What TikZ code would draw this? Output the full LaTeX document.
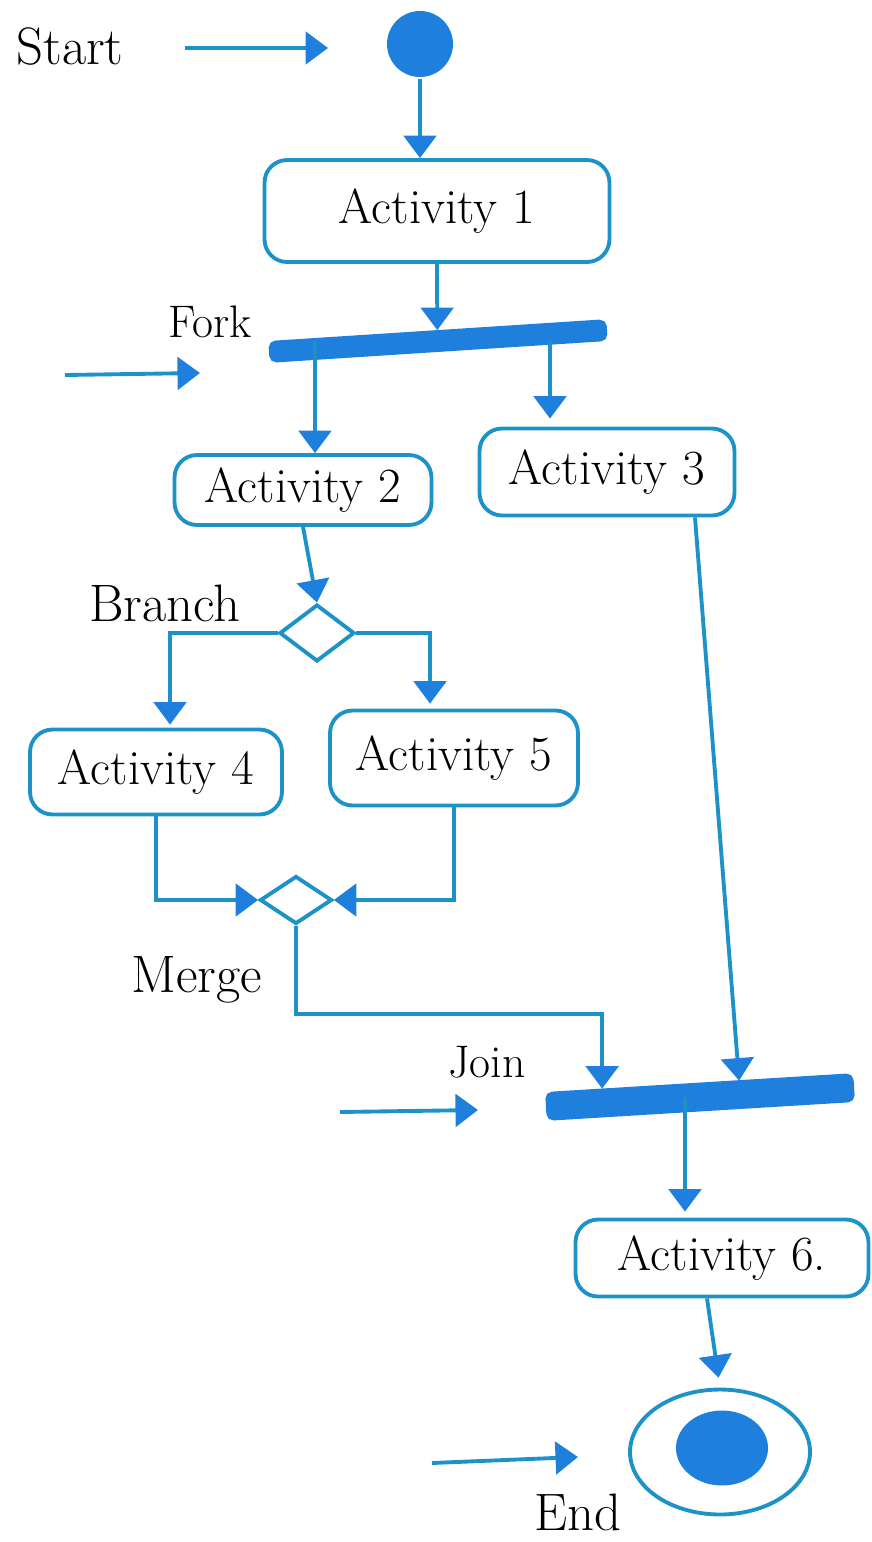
\documentclass[tikz,border=0pt]{standalone}
\usepackage{tikz}
\usetikzlibrary{arrows.meta,shapes.geometric,calc}
\definecolor{ink}{RGB}{28,146,200}
\definecolor{inkfill}{RGB}{30,128,220}

\begin{document}
\begin{tikzpicture}[
	  x=0.02cm,y=-0.02cm,line width=2.2pt,
	  flow/.style={draw=ink,-{Triangle[length=0.45cm,width=0.65cm,color=inkfill]}},
	  activity/.style={draw=ink,rounded corners=0.45cm,fill=white,font=\fontsize{28}{33}\selectfont},
	  bar/.style={fill=inkfill,draw=inkfill,rounded corners=3pt,inner sep=0pt},
	  tag/.style={font=\fontsize{30}{36}\selectfont},
	  smalltag/.style={font=\fontsize{26}{31}\selectfont}
	]
		\useasboundingbox (0,0) rectangle (872,1542);
		% initial and final states
		\node [circle,fill=inkfill,minimum size=1.32cm,inner sep=0pt] (start) at (420,44) {};
		\node [ellipse,draw=ink,minimum width=3.6cm,minimum height=2.5cm] (stop) at (720,1452) {};
		\node [ellipse,fill=inkfill,minimum width=1.84cm,minimum height=1.5cm] (stopdot) at (722,1448) {};
		% activities
		\foreach \n/\x/\y/\w/\h/\t in {1/437/211/6.9/2.04/{Activity 1},2/303/490/5.14/1.4/{Activity 2},
			3/607/472/5.1/1.74/{Activity 3},4/156/772/5.04/1.7/{Activity 4},
			5/454/758/4.96/1.9/{Activity 5},6/722/1258/5.86/1.54/{Activity 6.}}
			\node [activity,minimum width=\w cm,minimum height=\h cm] (a\n) at (\x,\y) {\t};
		% fork and join bars
		\node [bar,minimum width=6.7cm,minimum height=0.36cm,rotate=3.7] (fork) at (438,341) {};
		\node [bar,minimum width=6.1cm,minimum height=0.5cm,rotate=3.5] (join) at (700,1097) {};
		% branch and merge
		\node [diamond,draw=ink,minimum width=1.5cm,minimum height=1.14cm,inner sep=0pt] (br) at (317,633) {};
		\node [diamond,draw=ink,minimum width=1.44cm,minimum height=0.96cm,inner sep=0pt] (mg) at (296,900) {};
		% names
		\node [tag] (starttxt) at (70,46) {Start};
		\node [smalltag] (forktxt) at (210,322) {Fork};
		\node [tag] (branchtxt) at (165,603) {Branch};
		\node [tag] (mergetxt) at (197,980) {Merge};
		\node [smalltag] (jointxt) at (487,1062) {Join};
		\node [tag] (stoptxt) at (578,1512) {End};
		% end points off the nodes
		\coordinate (a2in) at ($(a2.north)+(12,0)$);
		\coordinate (a3in) at ($(a3.north)+(-57,-8)$);
		\coordinate (a4in) at ($(a4.north)+(14,-3)$);
		\coordinate (a5in) at ($(a5.north)+(-24,-5)$);
		\coordinate (a6in) at ($(a6.north)+(-37,-6)$);
		\coordinate (jl) at ($(join.north)+(-97,6)$);
		\coordinate (jr) at ($(join.north)+(40,-2)$);
		\coordinate (kink) at ($(jl)+(0,-75)$);
		% flow
		\draw [flow] (start.south) -- (start.south |- a1.north);
		\draw [flow] (a1.south) -- (fork.north);
		\draw [flow] (fork.center -| a2in) -- (a2in);
		\draw [flow] (fork.center -| a3in) -- (a3in);
		\draw [flow] (a2.south) -- (br.north);
		\draw [flow] (br.west) -| (a4in);
		\draw [flow] (br.east) -| (a5in);
		\draw [flow] (a4.south) |- (mg.west);
		\draw [flow] (a5.south) |- (mg.east);
		\draw [flow] (mg.south) |- (kink) -- (jl);
		\draw [flow] ($(a3.south)+(88,0)$) -- (jr);
		\draw [flow] (join.center -| a6in) -- (a6in);
		\draw [flow,shorten >=0.2cm] ($(a6.south)+(-15,0)$) -- (stop.north);
		% pointers to the names
		\coordinate (ps) at (185,48); \coordinate (qs) at (328,48);
		\coordinate (pf) at (65,375); \coordinate (qf) at (200,373);
		\coordinate (pj) at (340,1112); \coordinate (qj) at (478,1110);
		\coordinate (pe) at (432,1463); \coordinate (qe) at (578,1457);
		\foreach \k in {s,f,j,e}
			\draw [flow] (p\k) -- (q\k);
	\end{tikzpicture}
\end{document}
